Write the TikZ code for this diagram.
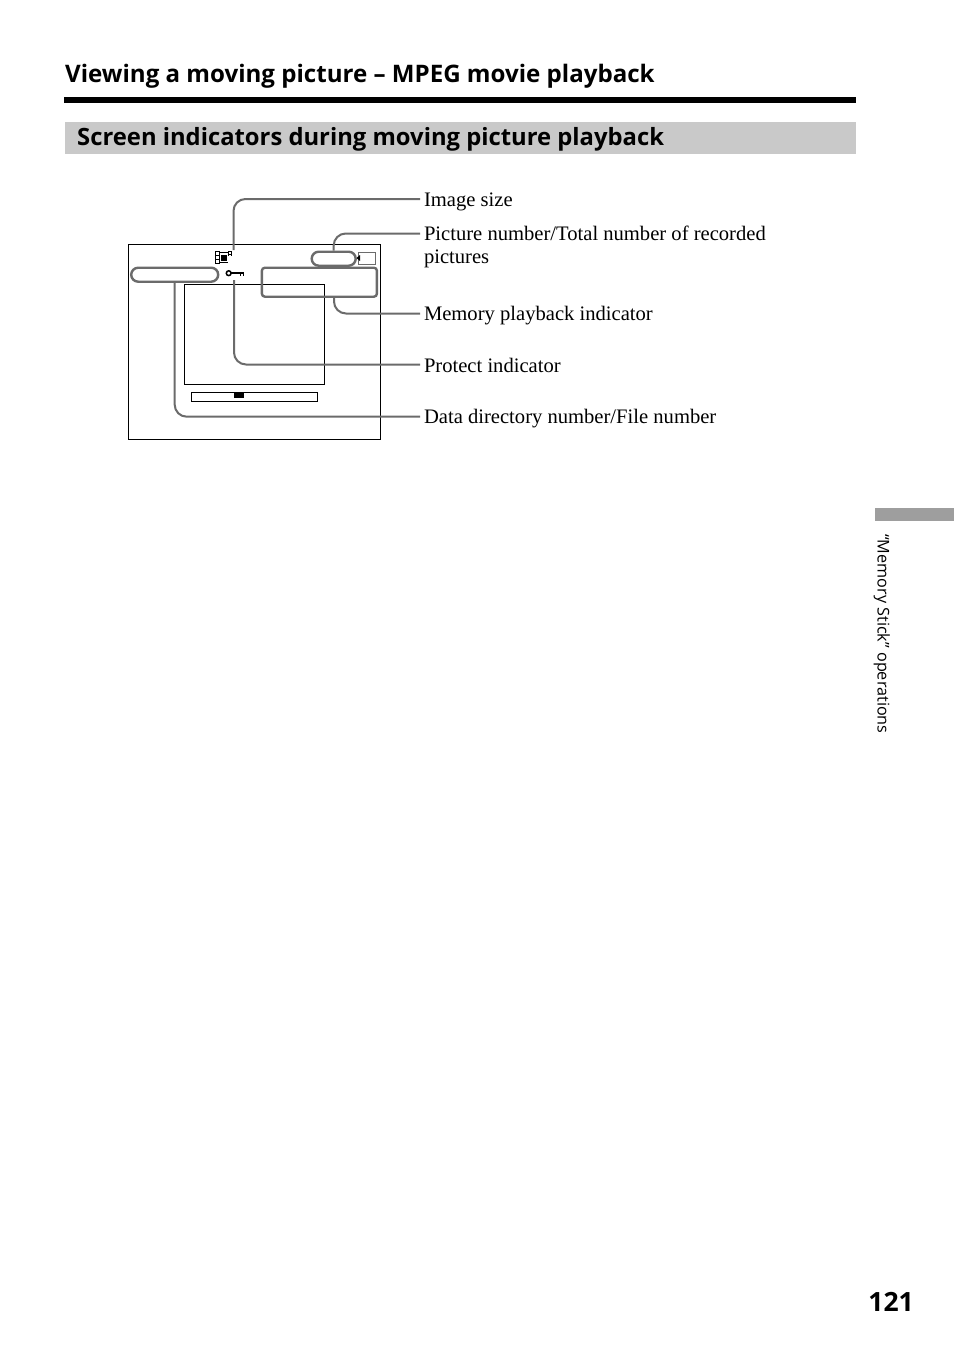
\documentclass[tikz,border=0pt]{standalone}
\usepackage{fontspec}
\setmainfont{Liberation Serif}
\newfontfamily\headfont{Open Sans}
\usetikzlibrary{positioning}
\definecolor{leadgray}{gray}{0.42}
\definecolor{bandgray}{gray}{0.79}
\definecolor{tabgray}{gray}{0.62}
\tikzset{
	screenbox/.style={draw=black,line width=1pt,minimum width=#1,anchor=north west},
	pill/.style={draw=leadgray,line width=2.4pt,rounded corners=7pt,fill=white},
	leader/.style={draw=leadgray,line width=2pt,rounded corners=12pt},
	callout/.style={anchor=west,outer sep=4pt,font=\fontsize{20.6}{22}\selectfont,text height=16pt,text depth=2pt},
	heading/.style={anchor=base west,font=\headfont\bfseries\fontsize{#1}{26}\selectfont}
}
\begin{document}
\begin{tikzpicture}[x=1pt,y=-1pt]
	\tikzstyle{every node}+=[inner sep=0pt]
	\useasboundingbox (0,0) rectangle (954,1352);
	% page furniture
	\node [heading=24.1] (title) at (65,82.5) {Viewing a moving picture – MPEG movie playback};
	\fill [black] (64,97) rectangle (856,103);
	\node [fill=bandgray,minimum width=791pt,minimum height=32pt,anchor=north west] (band) at (65,122) {};
	\node [heading=23.8] (subtitle) at (77,145.5) {Screen indicators during moving picture playback};
	\node [fill=tabgray,minimum width=79pt,minimum height=13pt,anchor=north west] (tab) at (875,508) {};
	\node [anchor=north west,rotate=-90,font=\headfont\fontsize{16.2}{18}\selectfont] (section) at (890,534) {“Memory Stick” operations};
	\node [anchor=base east,font=\headfont\bfseries\fontsize{26.5}{30}\selectfont] (pageno) at (914,1311) {121};
	% screen
	\node [screenbox=252pt,minimum height=195pt] (screen) at (128,244) {};
	\node [screenbox=140pt,minimum height=100pt] (movie) at (184,284) {};
	\node [screenbox=126pt,minimum height=9pt] (bar) at (191,391.5) {};
	\node [fill=black,minimum width=10pt,minimum height=5pt,anchor=north west] (marker) at (234,393) {};
	\node [draw=leadgray,line width=1pt,minimum width=17pt,minimum height=12pt,anchor=north west] (card) at (357.5,252) {};
	\fill [black] (356.5,258) -- (360,255) -- (360,261) -- cycle;
	% film icon
	\draw [black,line width=1pt] (215.5,251.5) rectangle (219.5,263.5);
	\draw [black,line width=0.8pt] (215.5,255.5) -- (219.5,255.5) (215.5,259.5) -- (219.5,259.5) (219.5,252.5) -- (228,252.5) (219.5,262.5) -- (228,262.5);
	\fill [black] (221,254.5) rectangle (227,260.5);
	\draw [black,line width=0.8pt] (228.5,256) -- (228.5,251.5) -- (231.5,251.5) -- (231.5,256) (228.5,254) -- (231.5,254);
	% key icon
	\draw [black,line width=1.5pt] (228.7,273.2) circle (2.4);
	\draw [black,line width=1.5pt] (231,273.2) -- (244,273.2) (240.5,273.2) -- (240.5,276) (243.5,273.2) -- (243.5,276);
	% pills over the screen
	\node [pill,minimum width=87pt,minimum height=14pt,anchor=north west] (filepill) at (130,266.5) {};
	\node [pill,minimum width=44pt,minimum height=14pt,anchor=north west] (numpill) at (310.5,250.5) {};
	\node [draw=leadgray,line width=2.4pt,rounded corners=3pt,minimum width=115pt,minimum height=29pt,anchor=north west] (memrect) at (260.7,266.5) {};
	% labels
	\node [callout] (size) at (420,199) {Image size};
	\node [callout] (number) at (420,233.5) {Picture number/Total number of recorded};
	\node [callout] (number2) at (420,256) {pictures};
	\node [callout] (memory) at (420,313.5) {Memory playback indicator};
	\node [callout,text depth=0pt] (protect) at (420,364.5) {Protect indicator};
	\node [callout] (data) at (420,416.7) {Data directory number/File number};
	% leaders
	\coordinate (sizeend) at (233.5,250);
	\coordinate (memend) at (334,296);
	\coordinate (keyend) at (234,280);
	\draw [leader] (sizeend) |- (size.west);
	\draw [leader] (numpill.north) |- (number.west);
	\draw [leader] (memend) |- (memory.west);
	\draw [leader] (keyend) |- (protect.west);
	\draw [leader] (filepill.south) |- (data.west);
\end{tikzpicture}
\end{document}
